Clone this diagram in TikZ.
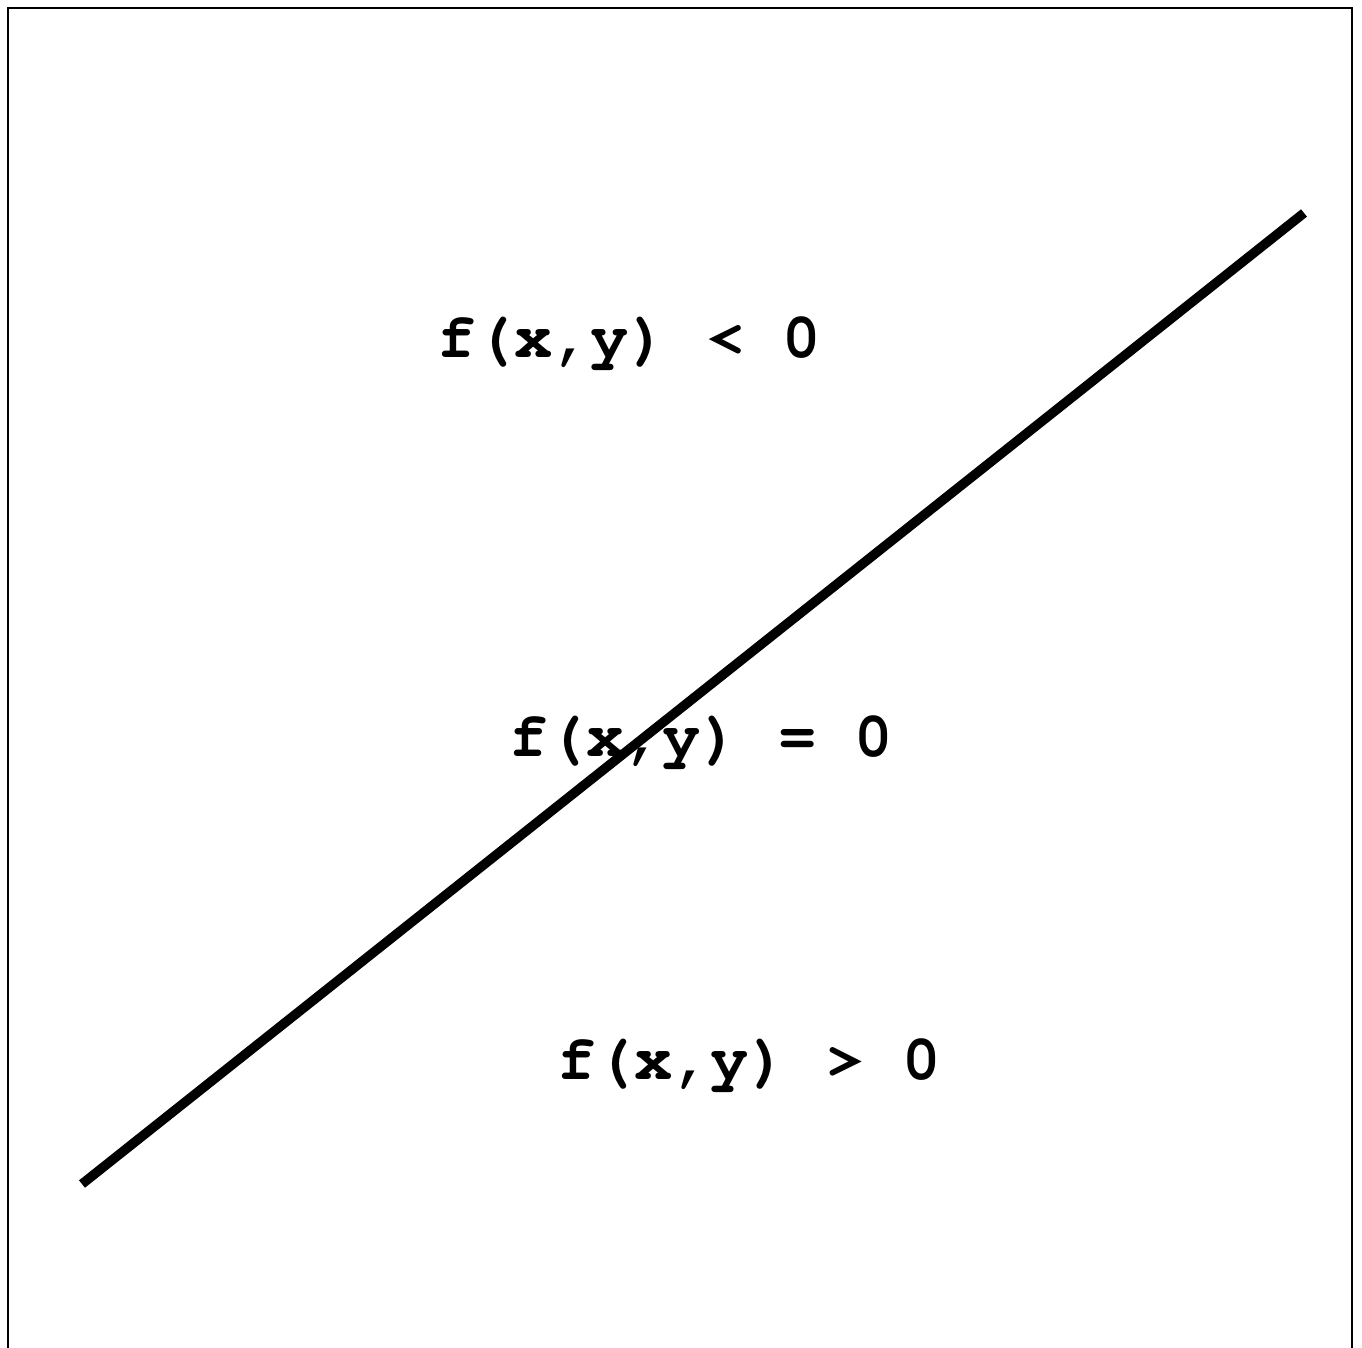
\documentclass[tikz,border=0pt]{standalone}
\usepackage[T1]{fontenc}
\begin{document}
\begin{tikzpicture}[x=1pt,y=-1pt,
  lbl/.style={anchor=base west,inner sep=0pt,font=\fontencoding{T1}\fontfamily{pcr}\fontseries{b}\fontsize{64}{64}\selectfont},
  frame/.style={line width=2.2pt,black},
  divider/.style={line width=9.5pt,black,line cap=butt}]
\useasboundingbox (0,0) rectangle (1362,1347);
\draw[frame] (8,1350) -- (8,8) -- (1352,8) -- (1352,1350);
\coordinate (p1) at (82,1184);
\coordinate (p2) at (1304,213);
\draw[divider] (p1) -- (p2);
\node[lbl] (t1) at (437,357) {f(x,y) < 0};
\node[lbl] (t2) at (509,756) {f(x,y) = 0};
\node[lbl] (t3) at (557,1079) {f(x,y) > 0};
\end{tikzpicture}
\end{document}
